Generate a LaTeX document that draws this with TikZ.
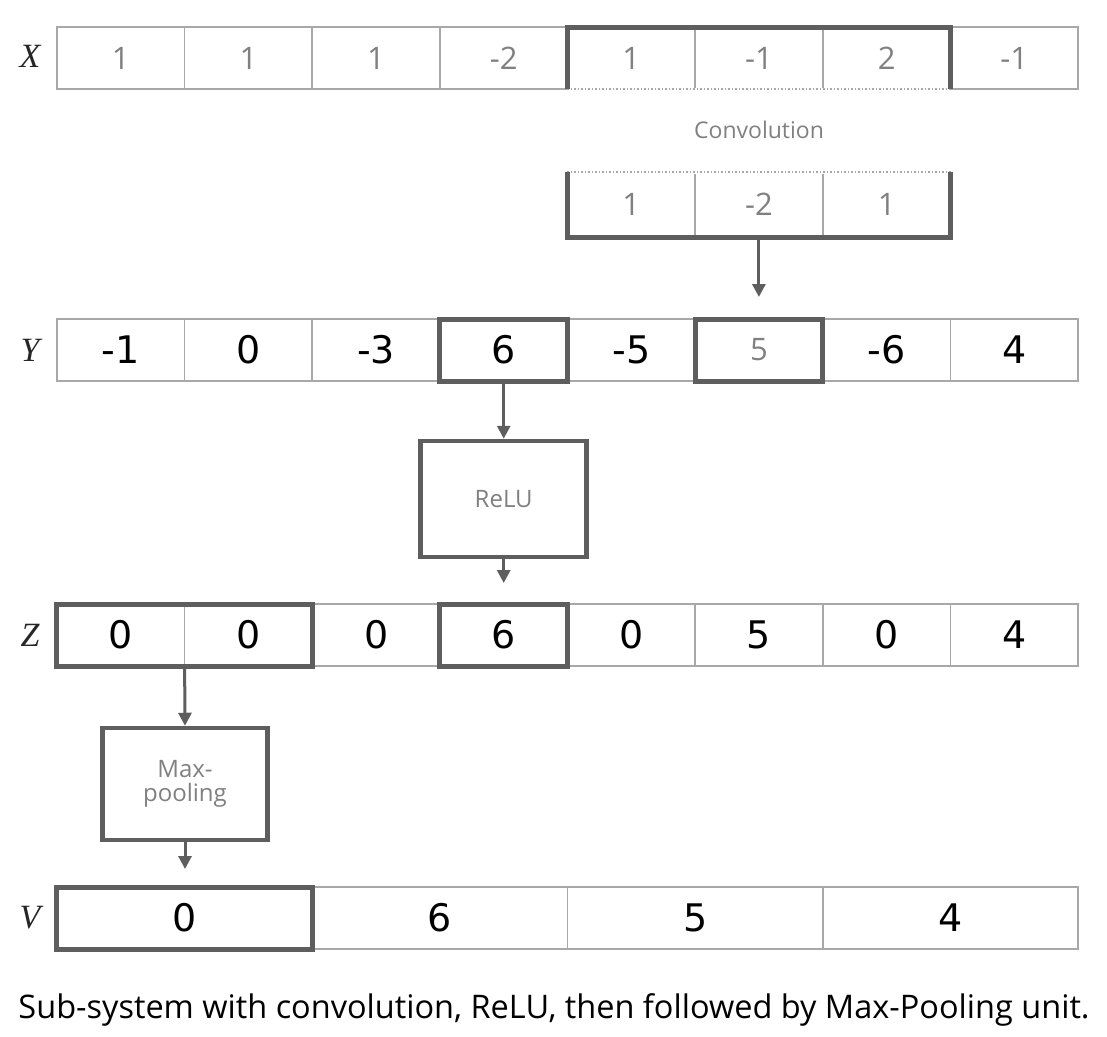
\documentclass[tikz,border=0pt]{standalone}
\usepackage{fontspec}
\setmainfont{Open Sans}
\newfontfamily\handfont{DejaVu Sans}
\newfontfamily\lblfont{Liberation Serif}
\usetikzlibrary{arrows.meta}
\definecolor{thinc}{HTML}{A8A8A8}
\definecolor{thickc}{HTML}{5E5E5E}
\definecolor{prtc}{HTML}{808080}
\begin{document}
\begin{tikzpicture}[x=1pt,y=-1pt,
  cell/.style={draw=thinc, line width=1.5pt, minimum width=127.625pt, minimum height=62pt, inner sep=0pt, outer sep=0pt},
  vcell/.style={cell, minimum width=255.25pt},
  prt/.style={text=prtc, font=\fontsize{31}{36}\selectfont},
  hand/.style={text=black, font=\handfont\fontsize{38}{44}\selectfont},
  thk/.style={draw=thickc, line width=5pt},
  arr/.style={draw=thickc, line width=3pt, -{Triangle[length=13pt,width=13pt]}},
  proc/.style={draw=thickc, line width=4.5pt, inner sep=0pt, text=prtc, font=\fontsize{24}{28}\selectfont, align=center},
  rowlbl/.style={font=\lblfont\itshape\fontsize{34}{38}\selectfont, text=black!85}]
\useasboundingbox (0,0) rectangle (1107,1036);
\fill[white] (0,0) rectangle (1107,1036);

% ---------- X row ----------
\node[cell,prt] (x1) at (120.8,58) {1};
\node[cell,prt] (x2) at (248.4,58) {1};
\node[cell,prt] (x3) at (376.1,58) {1};
\node[cell,prt] (x4) at (503.7,58) {-2};
\node[cell,prt] (x5) at (631.3,58) {1};
\node[cell,prt] (x6) at (758.9,58) {-1};
\node[cell,prt] (x7) at (886.6,58) {2};
\node[cell,prt] (x8) at (1014.2,58) {-1};
\node[rowlbl] (lx) at (30,56) {X};
\draw[white, line width=3pt] (x5.south west) -- (x7.south east);
\draw[thinc, line width=1.5pt, dotted] (x5.south west) -- (x7.south east);
\draw[thk] (x5.south west) -- (x5.north west) -- (x7.north east) -- (x7.south east);

% ---------- Convolution kernel ----------
\node[prt, font=\fontsize{23}{28}\selectfont] (conv) at (759,130) {Convolution};
\node[cell,prt,minimum height=65pt] (k1) at (631.3,204.5) {1};
\node[cell,prt,minimum height=65pt] (k2) at (758.9,204.5) {-2};
\node[cell,prt,minimum height=65pt] (k3) at (886.6,204.5) {1};
\draw[white, line width=3pt] (k1.north west) -- (k3.north east);
\draw[thinc, line width=1.5pt, dotted] (k1.north west) -- (k3.north east);
\draw[thk] (k1.north west) -- (k1.south west) -- (k3.south east) -- (k3.north east);
\coordinate (ya) at (758.9,297);
\draw[arr] (k2.south) -- (ya);

% ---------- Y row ----------
\node[cell,hand] (y1) at (120.8,350) {-1};
\node[cell,hand] (y2) at (248.4,350) {0};
\node[cell,hand] (y3) at (376.1,350) {-3};
\node[cell,hand] (y4) at (503.7,350) {6};
\node[cell,hand] (y5) at (631.3,350) {-5};
\node[cell,prt] (y6) at (758.9,350) {5};
\node[cell,hand] (y7) at (886.6,350) {-6};
\node[cell,hand] (y8) at (1014.2,350) {4};
\node[rowlbl] (ly) at (30,350) {Y};
\draw[thk] (y4.south west) rectangle (y4.north east);
\draw[thk] (y6.south west) rectangle (y6.north east);

% ---------- ReLU ----------
\node[proc, minimum width=166pt, minimum height=116pt] (relu) at (503.7,499) {ReLU};
\draw[arr] (y4.south) -- (relu.north);
\coordinate (za) at (503.7,583);
\draw[arr] (relu.south) -- (za);

% ---------- Z row ----------
\node[cell,hand] (z1) at (120.8,635) {0};
\node[cell,hand] (z2) at (248.4,635) {0};
\node[cell,hand] (z3) at (376.1,635) {0};
\node[cell,hand] (z4) at (503.7,635) {6};
\node[cell,hand] (z5) at (631.3,635) {0};
\node[cell,hand] (z6) at (758.9,635) {5};
\node[cell,hand] (z7) at (886.6,635) {0};
\node[cell,hand] (z8) at (1014.2,635) {4};
\node[rowlbl] (lz) at (30,635) {Z};
\draw[thk] (z1.south west) rectangle (z2.north east);
\draw[thk] (z4.south west) rectangle (z4.north east);

% ---------- Max-pooling ----------
\node[proc, minimum width=165pt, minimum height=112pt] (mp) at (185,784) {Max-\\[-4pt]pooling};
\draw[arr] (z1.south east) -- (mp.north);
\coordinate (va) at (185,869);
\draw[arr] (mp.south) -- (va);

% ---------- V row ----------
\node[vcell,hand] (v1) at (184.6,918) {0};
\node[vcell,hand] (v2) at (439.9,918) {6};
\node[vcell,hand] (v3) at (695.1,918) {5};
\node[vcell,hand] (v4) at (950.4,918) {4};
\node[rowlbl] (lv) at (30,918) {V};
\draw[thk] (v1.south west) rectangle (v1.north east);

% ---------- caption ----------
\node[font=\fontsize{32.5}{38}\selectfont, text=black] (cap) at (554,1010) {Sub-system with convolution, ReLU, then followed by Max-Pooling unit.};
\end{tikzpicture}
\end{document}
